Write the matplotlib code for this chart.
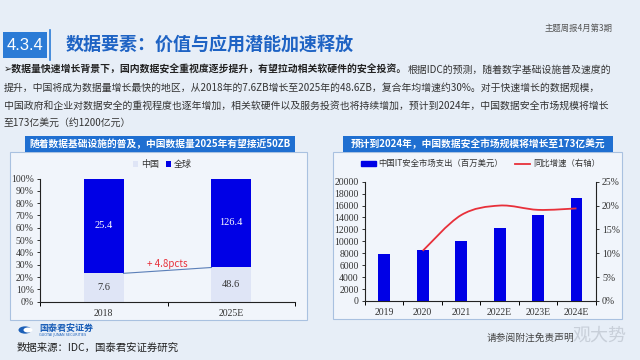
import numpy as np
import matplotlib.pyplot as plt
from matplotlib.patches import Rectangle, Circle, PathPatch
from matplotlib.path import Path
from matplotlib.lines import Line2D
from matplotlib.ticker import FixedLocator

CJK = ['Noto Sans CJK SC', 'DejaVu Sans']
SERIF = ['Liberation Serif', 'Noto Sans CJK SC']
plt.rcParams['font.family'] = CJK

# 左图：数据量 (ZB)
years_l = ['2018', '2025E']
china_zb = [7.6, 48.6]
rest_zb = [25.4, 126.4]
share_note = '+ 4.8pcts'

# 右图：中国IT安全市场支出（百万美元）及同比增速
years_r = ['2019', '2020', '2021', '2022E', '2023E', '2024E']
spend = [7800, 8600, 10100, 12200, 14400, 17200]
growth_years = ['2020', '2021', '2022E', '2023E', '2024E']
growth = [10.5, 18.0, 20.0, 19.1, 19.4]

title = '数据要素：价值与应用潜能加速释放'
para_bold = '➢数据量快速增长背景下，国内数据安全重视度逐步提升，有望拉动相关软硬件的安全投资。'
para_lines = ['根据IDC的预测，随着数字基础设施普及速度的',
              '提升，中国将成为数据量增长最快的地区，从2018年的7.6ZB增长至2025年的48.6ZB，复合年均增速约30%。对于快速增长的数据规模，',
              '中国政府和企业对数据安全的重视程度也逐年增加，相关软硬件以及服务投资也将持续增加，预计到2024年，中国数据安全市场规模将增长',
              '至173亿美元（约1200亿元）']

BLUE = '#0000e6'
LIGHT = '#dfe5f6'
RED = '#e8303a'
BANNER = '#1f6fd1'

W, H = 640, 360
def fx(p): return p / W
def fy(p): return 1 - p / H

fig = plt.figure(figsize=(6.4, 3.6), dpi=100)
fig.patch.set_facecolor('#e7eef7')

def box(x0, y0, x1, y1, **kw):
    r = Rectangle((fx(x0), fy(y1)), (x1 - x0) / W, (y1 - y0) / H,
                  transform=fig.transFigure, zorder=-1, **kw)
    fig.add_artist(r)

# 标题区
box(3, 32, 47, 58, fc='#2b7bd6', ec='none')
fig.text(fx(25), fy(45), '4.3.4', color='white', fontsize=12, ha='center', va='center',
         family=['Liberation Sans'])
fig.add_artist(Line2D([fx(50), fx(50)], [fy(30), fy(60)], transform=fig.transFigure,
                      color='#2b7bd6', lw=1.2))
fig.text(fx(66), fy(45), title, color='#1e63c4', fontsize=13, fontweight='bold', va='center')
fig.text(fx(545), fy(28), '主题周报4月第3期', color='#555555', fontsize=6, va='center')

# 正文
PS = 7.1
fig.canvas.draw()
r = fig.canvas.get_renderer()
t = fig.text(fx(4), fy(70), para_bold, fontsize=PS, fontweight='bold', color='#222222',
             va='center', family=CJK)
bb = t.get_window_extent(r)
fig.text(bb.x1 / W, fy(70), para_lines[0], fontsize=PS, color='#333333', va='center')
for i, line in enumerate(para_lines[1:]):
    fig.text(fx(4), fy(88 + 17.5 * i), line, fontsize=PS, color='#333333', va='center')

# 面板与标题条
box(10, 152, 307, 320, fc='#f1f5fb', ec='#a9c1e0', lw=0.8)
box(25, 136, 295, 152, fc=BANNER, ec='none')
fig.text(fx(160), fy(144), '随着数据基础设施的普及，中国数据量2025年有望接近50ZB',
         color='white', fontsize=7, fontweight='bold', ha='center', va='center')
box(333, 152, 622, 319, fc='#f1f5fb', ec='#a9c1e0', lw=0.8)
box(343, 136, 613, 152, fc=BANNER, ec='none')
fig.text(fx(478), fy(144), '预计到2024年，中国数据安全市场规模将增长至173亿美元',
         color='white', fontsize=7, fontweight='bold', ha='center', va='center')

TS = 7

def style_axis(ax):
    ax.set_facecolor('none')
    for s in ['top', 'right']:
        ax.spines[s].set_visible(False)
    for s in ['left', 'bottom']:
        ax.spines[s].set_color('#222222')
        ax.spines[s].set_linewidth(0.8)
    ax.tick_params(axis='y', direction='out', length=2.5, width=0.7, labelsize=TS,
                   colors='#333333', pad=2)
    ax.tick_params(axis='x', which='major', length=0, labelsize=TS, colors='#333333', pad=5)
    ax.tick_params(axis='x', which='minor', direction='out', length=3, width=0.7)
    for lab in ax.get_yticklabels() + ax.get_xticklabels():
        lab.set_family(SERIF)

# 左图
axl = fig.add_axes([fx(40), fy(301.7), 255 / W, 123.2 / H])
xl = np.arange(len(years_l))
total = np.array(china_zb) + np.array(rest_zb)
share = np.array(china_zb) / total * 100
bw = 0.31
axl.bar(xl, share, width=bw, color=LIGHT, label='中国')
axl.bar(xl, 100 - share, bottom=share, width=bw, color=BLUE, label='全球')
for i in range(len(xl)):
    axl.text(xl[i], share[i] / 2, f'{china_zb[i]}', ha='center', va='center',
             fontsize=7.5, color='#333333', family=SERIF)
    axl.text(xl[i], share[i] + (100 - share[i]) / 2, f'{rest_zb[i]}', ha='center',
             va='center', fontsize=7.5, color='white', family=SERIF)
axl.plot([xl[0] + bw / 2, xl[1] - bw / 2], [share[0], share[1]], color='#5b7fb8', lw=0.8)
axl.text(0.5, 31, share_note, color=RED, fontsize=7, ha='center', va='center')
axl.set_xlim(-0.5, 1.5)
axl.set_ylim(0, 100)
axl.set_yticks(range(0, 101, 10))
axl.set_yticklabels([f'{v}%' for v in range(0, 101, 10)])
axl.set_xticks(xl)
axl.set_xticklabels(years_l)
axl.xaxis.set_minor_locator(FixedLocator([-0.5, 0.5, 1.5]))
style_axis(axl)
axl.legend(loc='center', bbox_to_anchor=(0.48, 1.11), ncol=2, frameon=False, fontsize=6.5,
           handlelength=0.6, handleheight=0.6, handletextpad=0.3, columnspacing=0.8,
           labelcolor='#333333')

# 右图
axr = fig.add_axes([fx(365), fy(301), 230.7 / W, 119.3 / H])
xr = np.arange(len(years_r))
axr.bar(xr, spend, width=0.31, color=BLUE, label='中国IT安全市场支出（百万美元）')
axr.set_xlim(-0.5, len(years_r) - 0.5)
axr.set_ylim(0, 20000)
axr.set_yticks(range(0, 20001, 2000))
axr.set_xticks(xr)
axr.set_xticklabels(years_r)
axr.xaxis.set_minor_locator(FixedLocator(np.arange(-0.5, len(years_r), 1.0)))
style_axis(axr)

ax2 = axr.twinx()
ax2.set_ylim(0, 25)
ax2.set_yticks(range(0, 26, 5))
ax2.set_yticklabels([f'{v}%' for v in range(0, 26, 5)])
for s in ['top', 'left', 'bottom']:
    ax2.spines[s].set_visible(False)
ax2.spines['right'].set_color('#222222')
ax2.spines['right'].set_linewidth(0.8)
ax2.tick_params(axis='y', direction='out', length=2.5, width=0.7, labelsize=TS,
                colors='#333333', pad=2)
for lab in ax2.get_yticklabels():
    lab.set_family(SERIF)

# 平滑曲线（Catmull-Rom 转 Bezier）
gx = np.array([years_r.index(y) for y in growth_years], dtype=float)
gy = np.array(growth)
pts = np.column_stack([gx, gy])
ext = np.vstack([pts[0], pts, pts[-1]])
verts = [pts[0]]
codes = [Path.MOVETO]
for i in range(1, len(ext) - 2):
    p0, p1, p2, p3 = ext[i - 1], ext[i], ext[i + 1], ext[i + 2]
    verts += [p1 + (p2 - p0) / 6, p2 - (p3 - p1) / 6, p2]
    codes += [Path.CURVE4] * 3
ax2.add_patch(PathPatch(Path(verts, codes), fc='none', ec=RED, lw=1.3))

handles = [Rectangle((0, 0), 1, 1, color=BLUE), Line2D([], [], color=RED, lw=1.3)]
axr.legend(handles, ['中国IT安全市场支出（百万美元）', '同比增速（右轴）'], loc='center',
           bbox_to_anchor=(0.5, 1.15), ncol=2, frameon=False, fontsize=6,
           handlelength=1.8, handleheight=0.45, handletextpad=0.3, columnspacing=1.5,
           labelcolor='#333333')

# 页脚
fig.add_artist(Circle((fx(25), fy(330)), 6.5 / W, transform=fig.transFigure,
                      fc='#1b5fb8', ec='none'))
fig.add_artist(Circle((fx(28), fy(330)), 4.5 / W, transform=fig.transFigure,
                      fc='white', ec='none'))
fig.text(fx(39), fy(328), '国泰君安证券', color='#1b5fb8', fontsize=6.5, fontweight='bold',
         va='center')
fig.text(fx(39), fy(335), 'GUOTAI JUNAN SECURITIES', color='#1b5fb8', fontsize=2.5,
         va='center', family=['DejaVu Sans'])
fig.text(fx(17), fy(348), '数据来源：IDC，国泰君安证券研究', color='#222222', fontsize=7.5,
         va='center')
fig.text(fx(487), fy(338), '请参阅附注免责声明', color='#444444', fontsize=7, va='center')
fig.text(fx(572), fy(336), '观大势', color='#c5ccd6', fontsize=13, va='center', alpha=0.9)

fig.savefig('out.png', dpi=100, facecolor=fig.get_facecolor())
